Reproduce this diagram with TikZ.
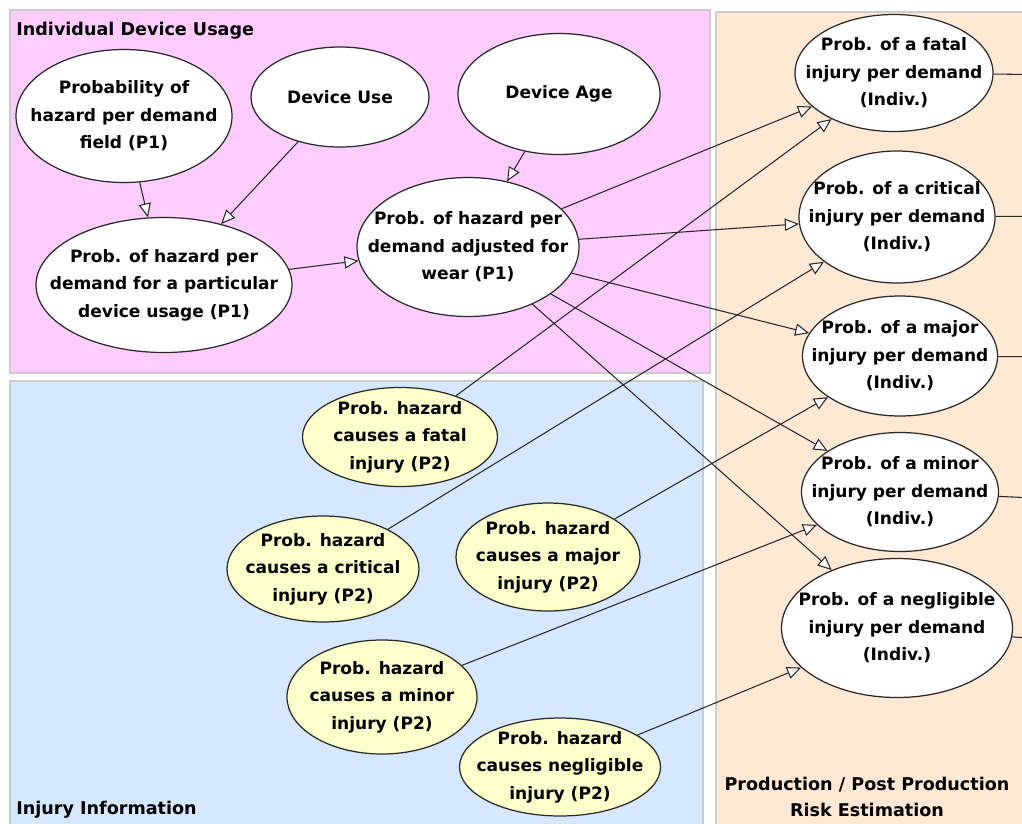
\documentclass[tikz,border=0pt]{standalone}
\usepackage{fontspec}
\setmainfont{DejaVu Sans}
\usetikzlibrary{arrows.meta,shapes.geometric}
\definecolor{usagepink}{RGB}{255,204,255}
\definecolor{injuryblue}{RGB}{213,232,255}
\definecolor{riskpeach}{RGB}{255,233,213}
\definecolor{framegray}{RGB}{204,204,204}
\definecolor{causeyellow}{RGB}{255,255,204}
\definecolor{ink}{RGB}{40,40,40}

\begin{document}
\begin{tikzpicture}[
  x=0.02cm, y=-0.02cm,
  font=\bfseries\fontsize{9.7}{15.6}\selectfont,
  zone/.style={fill=#1, draw=framegray, line width=1.2pt},
  var/.style 2 args={ellipse, draw=ink, fill=white, line width=0.7pt, align=center,
    inner sep=-2cm, minimum width=#1*0.02cm, minimum height=#2*0.02cm},
  cause/.style 2 args={var={#1}{#2}, fill=causeyellow},
  link/.style={-{Triangle[fill=white, length=8pt, width=7pt]}, line width=0.6pt, ink},
  feed/.style={line width=0.6pt, ink},
  zonetitle/.style={font=\bfseries\fontsize{10}{15}\selectfont, inner sep=0pt}
]
\useasboundingbox (0,0) rectangle (1022,823);
\fill[white] (0,0) rectangle (1022,823);

% Zones
\draw[zone=usagepink] (10,10) rectangle (710,373);
\draw[zone=injuryblue] (10,381) rectangle (703,830);
\draw[zone=riskpeach] (716,12) rectangle (1030,830);

\node[zonetitle, anchor=west] (usageTitle) at (16,31) {Individual Device Usage};
\node[zonetitle, anchor=west] (injuryTitle) at (16,810) {Injury Information};
\node[zonetitle, align=center] (riskTitle) at (867,797) {Production / Post Production\\Risk Estimation};

% Device usage variables
\node[var={216}{133}] (field) at (124,116) {Probability of\\hazard per demand\\field (P1)};
\node[var={178}{100}] (use) at (340,97) {Device Use};
\node[var={202}{121}] (age) at (559,94) {Device Age};
\node[var={256}{135}] (usage) at (164,285) {Prob. of hazard per\\demand for a particular\\device usage (P1)};
\node[var={222}{139}] (wear) at (468,247) {Prob. of hazard per\\demand adjusted for\\wear (P1)};

% Injury probabilities per demand
\node[var={198}{117}] (fatal) at (894,73) {Prob. of a fatal\\injury per demand\\(Indiv.)};
\node[var={196}{132}] (critical) at (897,217) {Prob. of a critical\\injury per demand\\(Indiv.)};
\node[var={195}{120}] (major) at (900,356) {Prob. of a major\\injury per demand\\(Indiv.)};
\node[var={197}{119}] (minor) at (900,492) {Prob. of a minor\\injury per demand\\(Indiv.)};
\node[var={231}{139}] (negl) at (897,628) {Prob. of a negligible\\injury per demand\\(Indiv.)};

% Injury information
\node[cause={195}{99}] (hFatal) at (400,437) {Prob. hazard\\causes a fatal\\injury (P2)};
\node[cause={192}{106}] (hCritical) at (323,569) {Prob. hazard\\causes a critical\\injury (P2)};
\node[cause={184}{108}] (hMajor) at (548,557) {Prob. hazard\\causes a major\\injury (P2)};
\node[cause={190}{114}] (hMinor) at (382,697) {Prob. hazard\\causes a minor\\injury (P2)};
\node[cause={201}{98}] (hNegl) at (560,767) {Prob. hazard\\causes negligible\\injury (P2)};

% Links
\draw[link] (field) -- (usage);
\draw[link] (use) -- (usage);
\draw[link] (age) -- (wear);
\draw[link] (usage) -- (wear);
\foreach \t in {fatal,critical,major,minor,negl}
  \draw[link] (wear) -- (\t);
\foreach \s/\t in {hFatal/fatal,hCritical/critical,hMajor/major,hMinor/minor,hNegl/negl}
  \draw[link] (\s) -- (\t);

% Links leaving to the right
\foreach \t/\y in {fatal/75,critical/216,major/357,minor/500,negl/642}{
  \coordinate (\t-out) at (1080,\y);
  \draw[feed] (\t) -- (\t-out);
}
\end{tikzpicture}
\end{document}
